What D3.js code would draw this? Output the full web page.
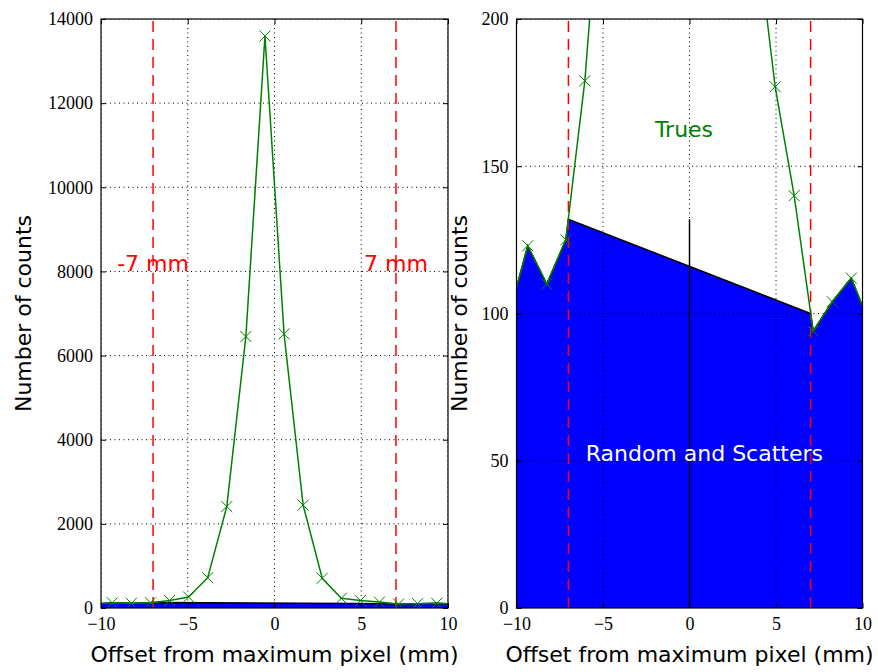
<!DOCTYPE html>
<html>
<head>
<meta charset="utf-8">
<script src="https://cdn.jsdelivr.net/npm/d3@7"></script>
<style>
  html, body { margin: 0; padding: 0; background: #fff; }
  svg { display: block; }
</style>
</head>
<body>
<svg id="chart" width="878" height="672"></svg>
<script>
// ---------------- data ----------------
const offsets = [-10.45, -9.35, -8.25, -7.15, -6.05, -4.95, -3.85, -2.75, -1.65, -0.55,
                 0.55, 1.65, 2.75, 3.85, 4.95, 6.05, 7.15, 8.25, 9.35, 10.45];
const counts = [99, 123, 110, 125, 179, 262, 721, 2412, 6452, 13595,
                6516, 2445, 707, 231, 177, 140, 94, 104, 112, 96];
const windowEdges = [-7, 7];
const windowLabels = ["-7 mm", "7 mm"];
const backgroundAtEdges = [132, 100];
const centerLineHeight = 132;
const xTicks = [-10, -5, 0, 5, 10];
const leftYTicks = [0, 2000, 4000, 6000, 8000, 10000, 12000, 14000];
const rightYTicks = [0, 50, 100, 150, 200];
const xLabel = "Offset from maximum pixel (mm)";
const yLabel = "Number of counts";

// ---------------- layout ----------------
const svg = d3.select("#chart");
const tickFont = "'Liberation Serif', 'DejaVu Serif', serif";
const labelFont = "'DejaVu Sans', sans-serif";
const labelSize = 22;
const fmt = v => (v < 0 ? "\u2212" + Math.abs(v) : String(v));

const points = offsets.map((x, i) => ({x, y: counts[i]}));
const bgPoly = [
  ...points.filter(p => p.x < windowEdges[0]),
  {x: windowEdges[0], y: backgroundAtEdges[0]},
  {x: windowEdges[1], y: backgroundAtEdges[1]},
  ...points.filter(p => p.x > windowEdges[1])
];

function panel(id, left, right, top, bottom, yMax, yTicks, opts) {
  const x = d3.scaleLinear().domain([-10, 10]).range([left, right]);
  const y = d3.scaleLinear().domain([0, yMax]).range([bottom, top]);
  const g = svg.append("g");

  g.append("clipPath").attr("id", id)
    .append("rect").attr("x", left).attr("y", top)
    .attr("width", right - left).attr("height", bottom - top);

  const plot = g.append("g").attr("clip-path", `url(#${id})`);

  // background (random and scatters) fill
  const area = [{x: bgPoly[0].x, y: 0}, ...bgPoly, {x: bgPoly[bgPoly.length - 1].x, y: 0}];
  plot.append("path")
    .attr("d", d3.line().x(d => x(d.x)).y(d => y(d.y))(area) + "Z")
    .attr("fill", "#0000ff").attr("stroke", "none");
  plot.append("path")
    .attr("d", d3.line().x(d => x(d.x)).y(d => y(d.y))(bgPoly))
    .attr("fill", "none").attr("stroke", "#000").attr("stroke-width", 1.5);

  // grid
  const grid = plot.append("g").attr("stroke", "#000").attr("stroke-width", 1)
    .attr("stroke-dasharray", "1,3.5");
  xTicks.forEach(t => grid.append("line")
    .attr("x1", x(t)).attr("x2", x(t)).attr("y1", top).attr("y2", bottom));
  yTicks.forEach(t => grid.append("line")
    .attr("x1", left).attr("x2", right).attr("y1", y(t)).attr("y2", y(t)));

  // centre line
  plot.append("line")
    .attr("x1", x(0)).attr("x2", x(0)).attr("y1", y(0)).attr("y2", y(centerLineHeight))
    .attr("stroke", "#000").attr("stroke-width", 1.5);

  // window edges
  windowEdges.forEach(e => plot.append("line")
    .attr("x1", x(e)).attr("x2", x(e)).attr("y1", bottom).attr("y2", top)
    .attr("stroke", "#ff0000").attr("stroke-width", 1.5)
    .attr("stroke-dasharray", "11,7"));

  // data line
  plot.append("path")
    .attr("d", d3.line().x(d => x(d.x)).y(d => y(d.y))(points))
    .attr("fill", "none").attr("stroke", "#008000").attr("stroke-width", 1.5);
  const ms = 5.5;
  const mk = plot.append("g").attr("stroke", "#008000").attr("stroke-width", 1);
  points.forEach(p => {
    const cx = x(p.x), cy = y(p.y);
    mk.append("path").attr("d",
      `M${cx - ms},${cy - ms}L${cx + ms},${cy + ms}M${cx - ms},${cy + ms}L${cx + ms},${cy - ms}`);
  });

  if (opts.windowText) {
    windowEdges.forEach((e, i) => plot.append("text")
      .attr("x", x(e)).attr("y", y(opts.windowTextY))
      .attr("text-anchor", "middle").attr("fill", "#ff0000")
      .attr("font-family", labelFont).attr("font-size", labelSize)
      .text(windowLabels[i]));
  }
  if (opts.annotations) {
    opts.annotations.forEach(a => plot.append("text")
      .attr("x", x(a.x)).attr("y", y(a.y))
      .attr("fill", a.color).attr("font-family", labelFont).attr("font-size", labelSize)
      .text(a.text));
  }

  // axes with inward ticks
  const ax = g.append("g").attr("font-family", tickFont);
  const styleAxis = sel => {
    sel.select(".domain").remove();
    sel.selectAll(".tick line").attr("stroke", "#000").attr("stroke-width", 1);
    sel.selectAll(".tick text").attr("font-family", tickFont).attr("font-size", 18).attr("fill", "#000");
  };
  ax.append("g").attr("transform", `translate(0,${bottom})`)
    .call(d3.axisBottom(x).tickValues(xTicks).tickFormat(fmt).tickSize(-5).tickPadding(9))
    .call(styleAxis);
  ax.append("g").attr("transform", `translate(0,${top})`)
    .call(d3.axisTop(x).tickValues(xTicks).tickFormat("").tickSize(-5))
    .call(styleAxis);
  ax.append("g").attr("transform", `translate(${left},0)`)
    .call(d3.axisLeft(y).tickValues(yTicks).tickFormat(fmt).tickSize(-5).tickPadding(8))
    .call(styleAxis);
  ax.append("g").attr("transform", `translate(${right},0)`)
    .call(d3.axisRight(y).tickValues(yTicks).tickFormat("").tickSize(-5))
    .call(styleAxis);

  g.append("rect").attr("x", left).attr("y", top)
    .attr("width", right - left).attr("height", bottom - top)
    .attr("fill", "none").attr("stroke", "#000").attr("stroke-width", 1.2);

  // labels
  g.append("text")
    .attr("x", (left + right) / 2).attr("y", 662)
    .attr("text-anchor", "middle").attr("font-family", labelFont).attr("font-size", labelSize)
    .attr("fill", "#000").text(xLabel);
  g.append("text")
    .attr("transform", `translate(${opts.yLabelX},${(top + bottom) / 2}) rotate(-90)`)
    .attr("text-anchor", "middle").attr("font-family", labelFont).attr("font-size", labelSize)
    .attr("fill", "#000").text(yLabel);
}

panel("clipL", 101, 448, 19, 608, 14000, leftYTicks,
  {yLabelX: 31, windowText: true, windowTextY: 8000});
panel("clipR", 516.5, 862.5, 19, 608, 200, rightYTicks,
  {yLabelX: 467, annotations: [
    {x: -2, y: 160, text: "Trues", color: "#008000"},
    {x: -6, y: 50, text: "Random and Scatters", color: "#ffffff"}
  ]});
</script>
</body>
</html>
